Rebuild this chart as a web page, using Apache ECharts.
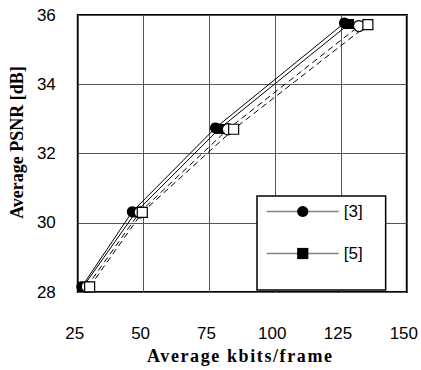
<!DOCTYPE html>
<html><head><meta charset="utf-8">
<script src="https://cdn.jsdelivr.net/npm/echarts@6/dist/echarts.min.js"></script>
<style>html,body{margin:0;padding:0;background:#fff;}#c{width:421px;height:370px;}</style>
</head><body><div id="c"></div>
<script>
const xTicks = [25, 50, 75, 100, 125, 150];
const yTicks = [28, 30, 32, 34, 36];
const ref3 = [[26.5, 28.15], [45.7, 30.32], [77.3, 32.74], [126.3, 35.77]];
const ref5 = [[27.0, 28.15], [47.0, 30.30], [78.7, 32.71], [128.0, 35.74]];
const openCircle = [[28.4, 28.15], [48.5, 30.30], [82.0, 32.70], [131.8, 35.68]];
const openSquare = [[29.5, 28.15], [49.5, 30.30], [84.2, 32.70], [135.2, 35.72]];
const xName = 'Average kbits/frame';
const yName = 'Average PSNR [dB]';

const chart = echarts.init(document.getElementById('c'), null, {renderer: 'svg'});
const base = {type: 'line', symbolSize: 11, lineStyle: {color: '#000', width: 1}, animation: false, emphasis: {disabled: true}};
chart.setOption({
  animation: false,
  grid: {left: 77, right: 14, top: 15, bottom: 66, show: true, borderColor: '#000', borderWidth: 2},
  xAxis: {
    type: 'value', min: xTicks[0], max: xTicks[xTicks.length - 1], interval: 25,
    name: xName, nameLocation: 'middle', nameGap: 55,
    nameTextStyle: {fontFamily: 'Liberation Serif', fontWeight: 'bold', fontSize: 18, color: '#000', padding: [0, 4, 0, 0]},
    axisLine: {show: false}, axisTick: {show: false},
    axisLabel: {fontFamily: 'Liberation Sans', fontSize: 17, color: '#000', margin: 33, padding: [0, 6, 0, 0]},
    splitLine: {lineStyle: {color: '#555', width: 1}}
  },
  yAxis: {
    type: 'value', min: yTicks[0], max: yTicks[yTicks.length - 1], interval: 2,
    name: yName, nameLocation: 'middle', nameGap: 50,
    nameTextStyle: {fontFamily: 'Liberation Serif', fontWeight: 'bold', fontSize: 18, color: '#000', padding: [0, 0, 0, 22]},
    axisLine: {show: false}, axisTick: {show: false},
    axisLabel: {fontFamily: 'Liberation Sans', fontSize: 17, color: '#000', margin: 22, padding: [8, 0, 0, 0]},
    splitLine: {lineStyle: {color: '#555', width: 1}}
  },
  legend: {
    orient: 'vertical', left: 257, top: 196,
    data: ['[3]', '[5]'],
    backgroundColor: '#fff', borderColor: '#000', borderWidth: 1.5,
    padding: [7, 23, 28, 9], itemGap: 25, itemWidth: 72, itemHeight: 14,
    lineStyle: {color: '#808080', width: 1.5},
    textStyle: {fontFamily: 'Liberation Sans', fontSize: 17, color: '#000'},
    selectedMode: false
  },
  series: [
    Object.assign({}, base, {name: '[3]', data: ref3, symbol: 'circle', itemStyle: {color: '#000'}}),
    Object.assign({}, base, {name: '[5]', data: ref5, symbol: 'rect', symbolSize: 10, itemStyle: {color: '#000'}}),
    Object.assign({}, base, {name: 'oc', data: openCircle, symbol: 'circle', itemStyle: {color: '#fff', borderColor: '#000', borderWidth: 1.2}, lineStyle: {color: '#000', width: 1, type: [6, 4]}}),
    Object.assign({}, base, {name: 'os', data: openSquare, symbol: 'rect', symbolSize: 10, itemStyle: {color: '#fff', borderColor: '#000', borderWidth: 1.2}, lineStyle: {color: '#000', width: 1, type: [6, 4]}})
  ]
});
function spaceXName() {
  document.querySelectorAll('#c svg text').forEach(t => {
    if (t.textContent === xName) t.setAttribute('letter-spacing', '1.6px');
  });
}
chart.on('finished', spaceXName);
spaceXName();
</script></body></html>
